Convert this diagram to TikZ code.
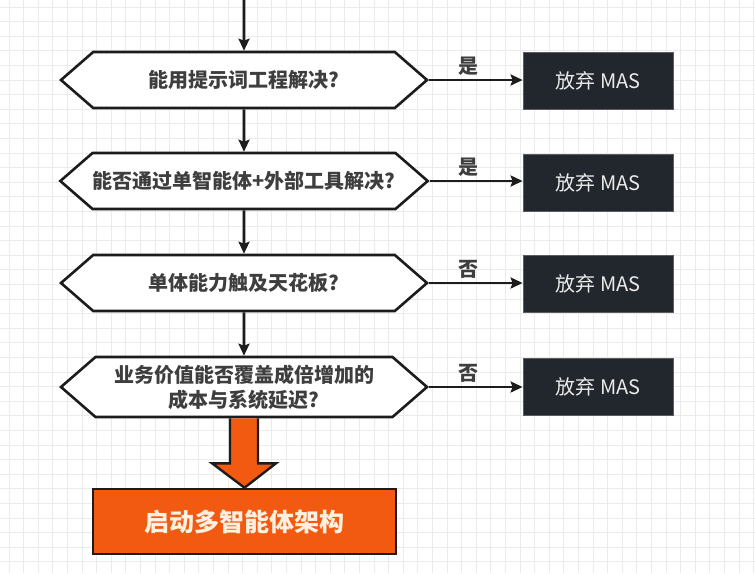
\documentclass[tikz,border=0pt]{standalone}
\usepackage{fontspec}
\setmainfont{Noto Sans CJK SC}
\usetikzlibrary{arrows.meta}
\usetikzlibrary{shapes.symbols}
\usetikzlibrary{calc}
\definecolor{boxdark}{HTML}{22272E}
\definecolor{masorange}{HTML}{F25A12}
\definecolor{inkdark}{HTML}{1C1C1C}
\definecolor{gridgray}{HTML}{EBEBEB}

\begin{document}
\begin{tikzpicture}[x=1pt,y=-1pt,
  question/.style = {draw=inkdark, line width=2.6pt, fill=white, shape=signal, signal to=west and east, signal pointer angle=82, minimum width=366pt, minimum height=56pt, inner sep=0pt, align=center, font=\fontsize{20}{25}\selectfont\bfseries, text=inkdark!85!white},
  giveup/.style = {draw=boxdark!75!white, line width=0.8pt, fill=boxdark, minimum width=150pt, minimum height=57pt, text=white!92!black, font=\fontsize{20}{24}\selectfont},
  flow/.style = {draw=inkdark, line width=2.6pt, -{Stealth[length=12pt,width=11pt,inset=2pt]}},
  answer/.style = {font=\fontsize{20}{24}\selectfont\bfseries, text=inkdark!85!white}]
	\useasboundingbox (0,0) rectangle (755,573);
	\fill[white] (0,0) rectangle (755,573);
	% background grid
	\foreach \gx in {0,...,51} \draw[gridgray, line width=0.8pt] (9+14.6*\gx,0) -- (9+14.6*\gx,573);
	\foreach \gy in {0,...,39} \draw[gridgray, line width=0.8pt] (0,7+14.6*\gy) -- (755,7+14.6*\gy);
	% questions
	\node[question] (q1) at (244,80) {能用提示词工程解决?};
	\node[question] (q2) at (244,181) {能否通过单智能体+外部工具解决?};
	\node[question] (q3) at (244,283) {单体能力触及天花板?};
	\node[question, minimum height=60pt] (q4) at (244,387) {业务价值能否覆盖成倍增加的\\成本与系统延迟?};
	% give-up boxes
	\node[giveup] (r1) at (598,80.5) {放弃 MAS};
	\node[giveup] (r2) at (598,182.5) {放弃 MAS};
	\node[giveup] (r3) at (598,284) {放弃 MAS};
	\node[giveup] (r4) at (598,386.5) {放弃 MAS};
	% start box
	\node[draw=inkdark, line width=2.6pt, fill=masorange, minimum width=303pt, minimum height=65pt, text=white!88!orange, font=\fontsize{25}{30}\selectfont\bfseries] (go) at (244.5,521.5) {启动多智能体架构};
	\coordinate (top) at (244,0);
	\draw[flow] (top) -- (q1);
	\draw[flow] (q1) -- (q2);
	\draw[flow] (q2) -- (q3);
	\draw[flow] (q3) -- (q4);
	\draw[flow] (q1.east) -- (q1.east -| r1.west) node[answer, pos=0.42, above] {是};
	\draw[flow] (q2.east) -- (q2.east -| r2.west) node[answer, pos=0.42, above] {是};
	\draw[flow] (q3.east) -- (q3.east -| r3.west) node[answer, pos=0.42, above] {否};
	\draw[flow] (q4.east) -- (q4.east -| r4.west) node[answer, pos=0.42, above] {否};
	% big arrow
	\draw[draw=inkdark, line width=2.4pt, fill=masorange, line join=miter]
		($(q4.south)+(-14,0)$) -- ($(q4.south)+(-14,45)$) -- ($(q4.south)+(-32,45)$) -- (go.north)
		-- ($(q4.south)+(32,45)$) -- ($(q4.south)+(14,45)$) -- ($(q4.south)+(14,0)$);
\end{tikzpicture}
\end{document}
